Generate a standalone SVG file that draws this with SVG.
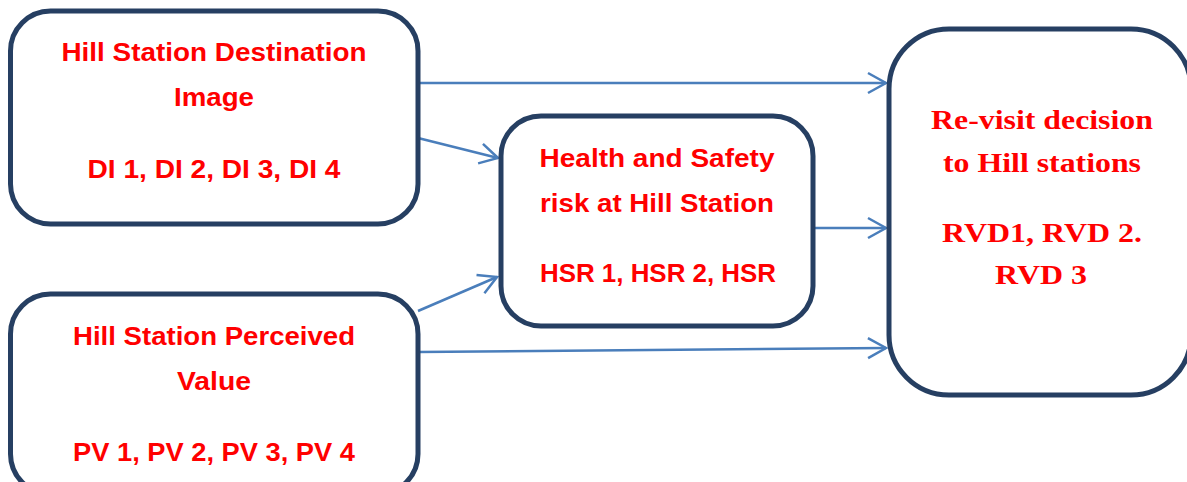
<svg xmlns="http://www.w3.org/2000/svg" width="1187" height="482" viewBox="0 0 1187 482">
  <style>
    .box { fill: #ffffff; stroke: #263f62; stroke-width: 5; }
    .lbl { fill: #ff0000; font-family: "Liberation Sans", Arial, sans-serif; font-weight: bold; font-size: 26px; text-anchor: middle; }
    .serif { fill: #ff0000; font-family: "Liberation Serif", "Times New Roman", serif; font-weight: bold; font-size: 28px; text-anchor: middle; }
    .link { fill: none; stroke: #4a7ebb; stroke-width: 2.5; marker-end: url(#chev); }
  </style>
  <defs>
    <marker id="chev" markerUnits="userSpaceOnUse" markerWidth="24" markerHeight="24" refX="21" refY="12" orient="auto" viewBox="0 0 24 24">
      <path d="M3,2 L21,12 L3,22" fill="none" stroke="#4a7ebb" stroke-width="2.5"/>
    </marker>
  </defs>

  <g id="connectors">
    <line class="link" x1="418" y1="83" x2="886" y2="83"/>
    <line class="link" x1="418" y1="138" x2="498" y2="158"/>
    <line class="link" x1="815" y1="228" x2="886" y2="228"/>
    <line class="link" x1="418" y1="311" x2="497" y2="277"/>
    <line class="link" x1="418" y1="352" x2="886" y2="348"/>
  </g>

  <g id="destination-image">
    <rect class="box" x="10.5" y="11" width="407.5" height="213" rx="40" ry="40"/>
    <text class="lbl" x="214" y="61" textLength="305" lengthAdjust="spacingAndGlyphs">Hill Station Destination</text>
    <text class="lbl" x="214" y="106" textLength="80" lengthAdjust="spacingAndGlyphs">Image</text>
    <text class="lbl" x="214" y="178" textLength="253" lengthAdjust="spacingAndGlyphs">DI 1, DI 2, DI 3, DI 4</text>
  </g>

  <g id="perceived-value">
    <rect class="box" x="10.5" y="294" width="407.5" height="200" rx="40" ry="40"/>
    <text class="lbl" x="214" y="345" textLength="282" lengthAdjust="spacingAndGlyphs">Hill Station Perceived</text>
    <text class="lbl" x="214" y="390" textLength="74" lengthAdjust="spacingAndGlyphs">Value</text>
    <text class="lbl" x="214" y="461" textLength="282" lengthAdjust="spacingAndGlyphs">PV 1, PV 2, PV 3, PV 4</text>
  </g>

  <g id="health-safety">
    <rect class="box" x="501" y="116" width="312" height="210" rx="40" ry="40"/>
    <text class="lbl" x="657" y="167" textLength="235" lengthAdjust="spacingAndGlyphs">Health and Safety</text>
    <text class="lbl" x="657" y="212" textLength="234" lengthAdjust="spacingAndGlyphs">risk at Hill Station</text>
    <text class="lbl" x="658" y="282" textLength="236" lengthAdjust="spacingAndGlyphs">HSR 1, HSR 2, HSR</text>
  </g>

  <g id="revisit-decision">
    <rect class="box" x="889" y="29" width="302" height="366" rx="60" ry="60"/>
    <text class="serif" x="1042" y="129" textLength="222" lengthAdjust="spacingAndGlyphs">Re-visit decision</text>
    <text class="serif" x="1042" y="172" textLength="198" lengthAdjust="spacingAndGlyphs">to Hill stations</text>
    <text class="serif" x="1042" y="242" textLength="200" lengthAdjust="spacingAndGlyphs">RVD1, RVD 2.</text>
    <text class="serif" x="1041" y="284" textLength="92" lengthAdjust="spacingAndGlyphs">RVD 3</text>
  </g>
</svg>
